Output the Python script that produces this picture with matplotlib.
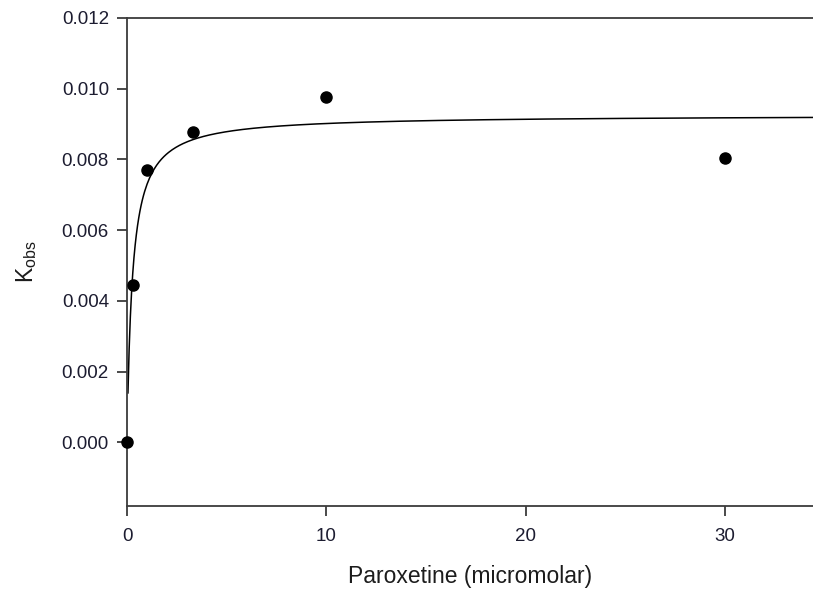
import numpy as np
import matplotlib
matplotlib.use("Agg")
import matplotlib.pyplot as plt

plt.rcParams['font.family'] = ['Liberation Sans', 'DejaVu Sans']
plt.rcParams['mathtext.fontset'] = 'custom'
plt.rcParams['mathtext.rm'] = 'Liberation Sans'

# Measured rate constants vs paroxetine concentration
paroxetine_uM = [0.0, 0.3, 1.0, 3.3, 10.0, 30.0]
k_obs = [0.0, 0.00445, 0.0077, 0.00877, 0.00976, 0.00804]

# Hyperbolic (saturation) fit parameters
vmax_fit = 0.00926
km_fit = 0.27

x_ticks = [0, 10, 20, 30]
y_ticks = [0.000, 0.002, 0.004, 0.006, 0.008, 0.010, 0.012]

fig = plt.figure(figsize=(8.13, 5.90), dpi=100)
ax = fig.add_axes([127 / 813, 84 / 590, 1 - 127 / 813, (506 - 18) / 590])

x_fit = np.linspace(0.048, 36, 600)
y_fit = vmax_fit * x_fit / (km_fit + x_fit)
ax.plot(x_fit, y_fit, color='black', lw=1.1, clip_on=False)

ax.plot(paroxetine_uM, k_obs, 'o', color='black', ms=8, clip_on=False, zorder=5)

ax.set_xlim(0, 34.4)
ax.set_ylim(-0.0018, 0.012)
ax.set_xticks(x_ticks)
ax.set_yticks(y_ticks)
ax.set_xticklabels([str(t) for t in x_ticks])
ax.set_yticklabels([f"{t:.3f}" for t in y_ticks])

spine_c = '#3c3c3c'
for side in ['left', 'bottom', 'top']:
    ax.spines[side].set_color(spine_c)
    ax.spines[side].set_linewidth(1.3)
ax.spines['right'].set_visible(False)

ax.tick_params(direction='out', length=7, width=1.3, color=spine_c,
               labelsize=13.5, labelcolor='#1c1c30', pad=6)
ax.tick_params(axis='x', pad=9)

ax.set_xlabel('Paroxetine (micromolar)', fontsize=16.5, color='#1c1c1c', labelpad=14)
ax.set_ylabel(r'$\mathrm{K_{obs}}$', fontsize=16.5, color='#1c1c1c', labelpad=16)

fig.savefig('out.png', dpi=100)
